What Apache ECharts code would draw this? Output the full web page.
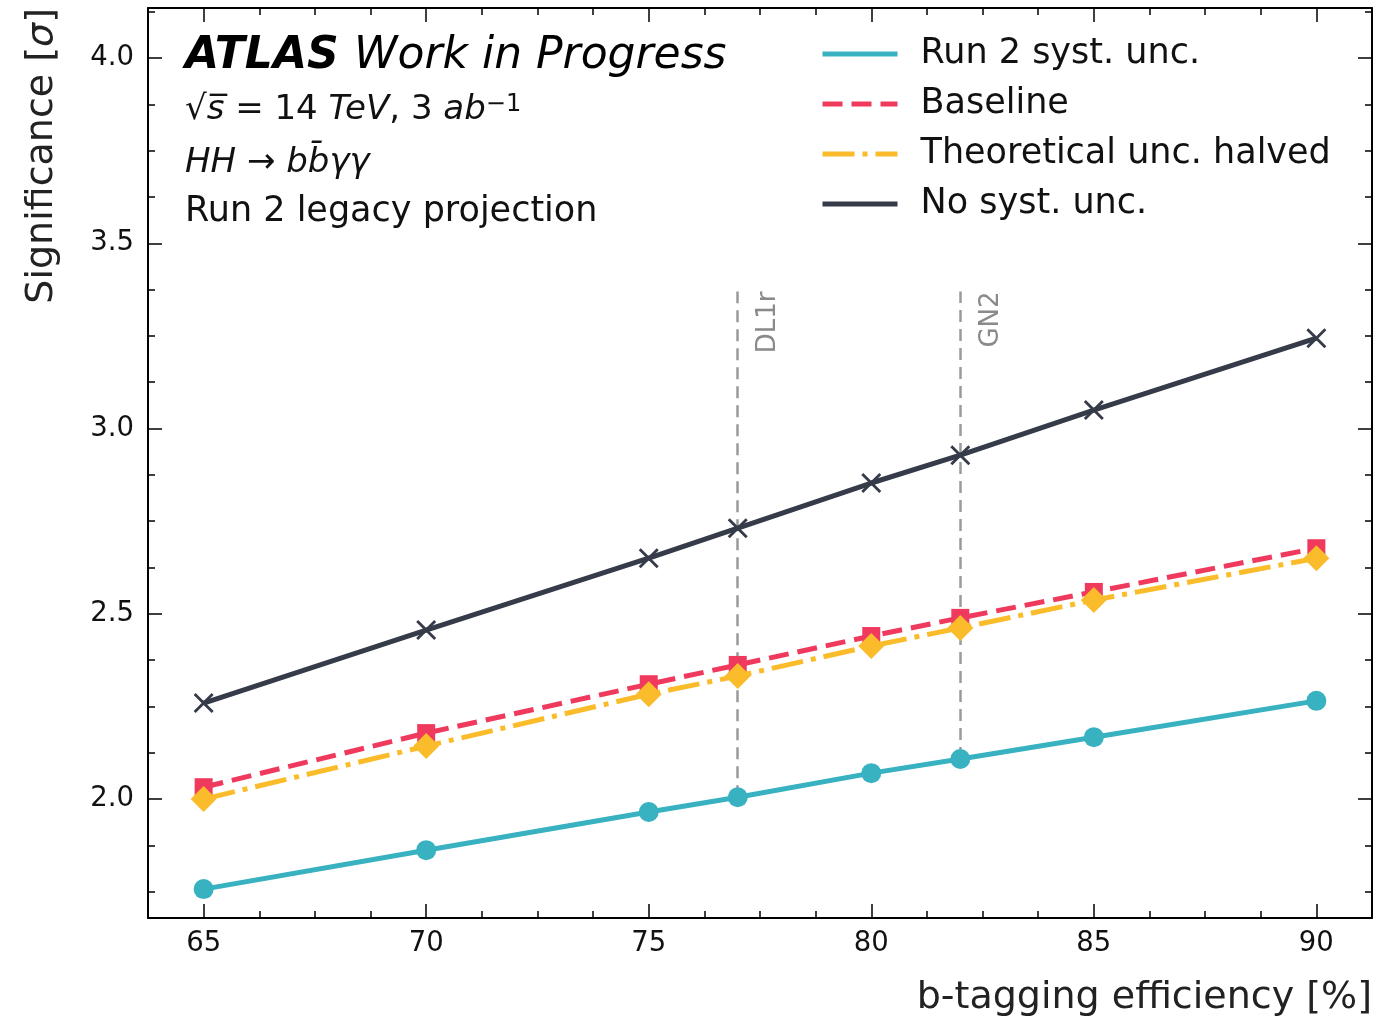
<!DOCTYPE html>
<html>
<head>
<meta charset="utf-8">
<script src="https://cdn.jsdelivr.net/npm/echarts@6/dist/echarts.min.js"></script>
<style>
  html, body { margin: 0; padding: 0; background: #fff; }
  #chart { width: 1388px; height: 1020px; }
</style>
</head>
<body>
<div id="chart"></div>
<script>
// b-tagging working points (%)
const effPoints = [65, 70, 75, 77, 80, 82, 85, 90];

// Expected significance per scenario
const run2Syst   = [1.757, 1.862, 1.965, 2.005, 2.070, 2.108, 2.167, 2.265];
const baseline   = [2.032, 2.178, 2.310, 2.362, 2.440, 2.489, 2.559, 2.677];
const theoHalved = [2.000, 2.143, 2.283, 2.332, 2.413, 2.462, 2.537, 2.650];
const noSyst     = [2.259, 2.456, 2.650, 2.731, 2.853, 2.928, 3.050, 3.244];

// Tagger reference working points
const taggerNames = ['DL1r', 'GN2'];
const taggerEff   = [77, 82];
const taggerLow   = [2.005, 2.108];
const taggerHigh  = [3.37, 3.37];

// Axis ranges and ticks
const xRange = [63.75, 91.25];
const yRange = [1.679, 4.135];
const xMajor = [65, 70, 75, 80, 85, 90];
const xMinor = [66.25, 67.5, 68.75, 71.25, 72.5, 73.75, 76.25, 77.5, 78.75,
                81.25, 82.5, 83.75, 86.25, 87.5, 88.75];
const yMajor = [2.0, 2.5, 3.0, 3.5, 4.0];
const yMinor = [1.75, 1.875, 2.125, 2.25, 2.375, 2.625, 2.75, 2.875, 3.125, 3.25,
                3.375, 3.625, 3.75, 3.875, 4.125];

const seriesNames = ['Run 2 syst. unc.', 'Baseline', 'Theoretical unc. halved', 'No syst. unc.'];
const colors = { run2: '#38b2c0', base: '#ef3a5d', theo: '#fbbc2c', nosys: '#363b4a', tagger: '#9a9a9a' };

const FONT = 'DejaVu Sans';
const LINE_W = 5;
const crossPath = 'path://M1,0 L5,4 L9,0 L10,1 L6,5 L10,9 L9,10 L5,6 L1,10 L0,9 L4,5 L0,1 Z';

function pairs(ys) { return effPoints.map((x, i) => [x, ys[i]]); }

function xAxisDef(position, ticks, len, showLine, showLabel) {
  return {
    type: 'value', position, min: xRange[0], max: xRange[1],
    axisLine: { show: showLine, onZero: false, lineStyle: { color: '#000', width: 2 } },
    axisTick: { show: true, inside: true, length: len, customValues: ticks,
                lineStyle: { color: '#000', width: 1.5 } },
    axisLabel: { show: showLabel, customValues: ticks, fontSize: 27.5, color: '#111',
                 fontFamily: FONT, margin: 12 },
    splitLine: { show: false }
  };
}
function yAxisDef(position, ticks, len, showLine, showLabel) {
  return {
    type: 'value', position, min: yRange[0], max: yRange[1],
    axisLine: { show: showLine, onZero: false, lineStyle: { color: '#000', width: 2 } },
    axisTick: { show: true, inside: true, length: len, customValues: ticks,
                lineStyle: { color: '#000', width: 1.5 } },
    axisLabel: { show: showLabel, customValues: ticks, fontSize: 27.5, color: '#111',
                 fontFamily: FONT, margin: 14, formatter: v => v.toFixed(1) },
    splitLine: { show: false }
  };
}

const chart = echarts.init(document.getElementById('chart'), null, { renderer: 'canvas' });

const option = {
  animation: false,
  backgroundColor: '#fff',
  textStyle: { fontFamily: FONT },
  grid: { left: 148, right: 16, top: 8, bottom: 102, containLabel: false, outerBoundsMode: 'none' },
  xAxis: [
    xAxisDef('bottom', xMajor, 14, true, true),
    xAxisDef('bottom', xMinor, 7, false, false),
    xAxisDef('top', xMajor, 14, true, false),
    xAxisDef('top', xMinor, 7, false, false)
  ],
  yAxis: [
    yAxisDef('left', yMajor, 14, true, true),
    yAxisDef('left', yMinor, 7, false, false),
    yAxisDef('right', yMajor, 14, true, false),
    yAxisDef('right', yMinor, 7, false, false)
  ],
  legend: {
    orient: 'vertical', left: 815, top: 29,
    itemWidth: 75, itemHeight: 20, itemGap: 10,
    selectedMode: false,
    data: seriesNames,
    itemStyle: { opacity: 0 },
    lineStyle: { width: LINE_W },
    textStyle: { fontSize: 35, color: '#111', fontFamily: FONT, lineHeight: 40, padding: [0, 0, 0, 18] }
  },
  series: [
    {
      name: 'taggers', type: 'line', data: [], silent: true,
      markLine: {
        z: 1, symbol: ['none', 'none'], silent: true,
        lineStyle: { color: colors.tagger, width: 2.5, type: [12, 7] },
        label: {
          show: true, position: 'insideEndBottom', distance: [0, 18],
          color: '#8a8a8a', fontSize: 26, fontFamily: FONT,
          formatter: p => p.name
        },
        data: taggerNames.map((n, i) => [
          { name: n, coord: [taggerEff[i], taggerLow[i]] },
          { coord: [taggerEff[i], taggerHigh[i]] }
        ])
      }
    },
    {
      name: seriesNames[0], type: 'line', z: 3, data: pairs(run2Syst),
      symbol: 'circle', symbolSize: 20, showAllSymbol: true,
      lineStyle: { color: colors.run2, width: LINE_W },
      itemStyle: { color: colors.run2 }
    },
    {
      name: seriesNames[1], type: 'line', z: 4, data: pairs(baseline),
      symbol: 'rect', symbolSize: 18, showAllSymbol: true,
      lineStyle: { color: colors.base, width: LINE_W, type: [20, 9] },
      itemStyle: { color: colors.base }
    },
    {
      name: seriesNames[2], type: 'line', z: 5, data: pairs(theoHalved),
      symbol: 'diamond', symbolSize: 26, showAllSymbol: true,
      lineStyle: { color: colors.theo, width: LINE_W, type: [32, 8, 5, 8] },
      itemStyle: { color: colors.theo }
    },
    {
      name: seriesNames[3], type: 'line', z: 6, data: pairs(noSyst),
      symbol: crossPath, symbolSize: 20, showAllSymbol: true,
      lineStyle: { color: colors.nosys, width: LINE_W },
      itemStyle: { color: colors.nosys }
    }
  ],
  graphic: [
    {
      type: 'text', x: 185, y: 57,
      style: {
        text: '{b|ATLAS }{i|Work in Progress}',
        align: 'left', verticalAlign: 'middle',
        rich: {
          b: { fontFamily: FONT, fontSize: 44, fontWeight: 'bold', fontStyle: 'italic', fill: '#000' },
          i: { fontFamily: FONT, fontSize: 44, fontStyle: 'italic', fill: '#000' }
        }
      }
    },
    {
      type: 'text', x: 185, y: 110,
      style: {
        text: '{r|√}{i|s\u0305}{r| = 14 }{i|TeV}{r|, 3 }{i|ab}{sup|−1}',
        align: 'left', verticalAlign: 'middle',
        rich: {
          r: { fontFamily: FONT, fontSize: 34, fill: '#111' },
          i: { fontFamily: FONT, fontSize: 34, fontStyle: 'italic', fill: '#111' },
          sup: { fontFamily: FONT, fontSize: 24, fill: '#111', verticalAlign: 'top' }
        }
      }
    },
    {
      type: 'text', x: 185, y: 163,
      style: {
        text: '{i|HH}{r| → }{i|bb\u0304γγ}',
        align: 'left', verticalAlign: 'middle',
        rich: {
          r: { fontFamily: FONT, fontSize: 34, fill: '#111' },
          i: { fontFamily: FONT, fontSize: 34, fontStyle: 'italic', fill: '#111' }
        }
      }
    },
    {
      type: 'text', x: 185, y: 212,
      style: {
        text: 'Run 2 legacy projection', align: 'left', verticalAlign: 'middle',
        fontFamily: FONT, fontSize: 35, fill: '#111'
      }
    },
    {
      type: 'text', x: 42, y: 8, rotation: Math.PI / 2,
      style: {
        text: 'Significance [{i|σ}]', align: 'right', verticalAlign: 'middle',
        fontFamily: FONT, fontSize: 38, fill: '#222',
        rich: { i: { fontFamily: FONT, fontSize: 38, fontStyle: 'italic', fill: '#222' } }
      }
    },
    {
      type: 'text', x: 1372, y: 998,
      style: {
        text: 'b-tagging efficiency [%]', align: 'right', verticalAlign: 'middle',
        fontFamily: FONT, fontSize: 38, fill: '#222'
      }
    }
  ]
};

chart.setOption(option);
</script>
</body>
</html>
